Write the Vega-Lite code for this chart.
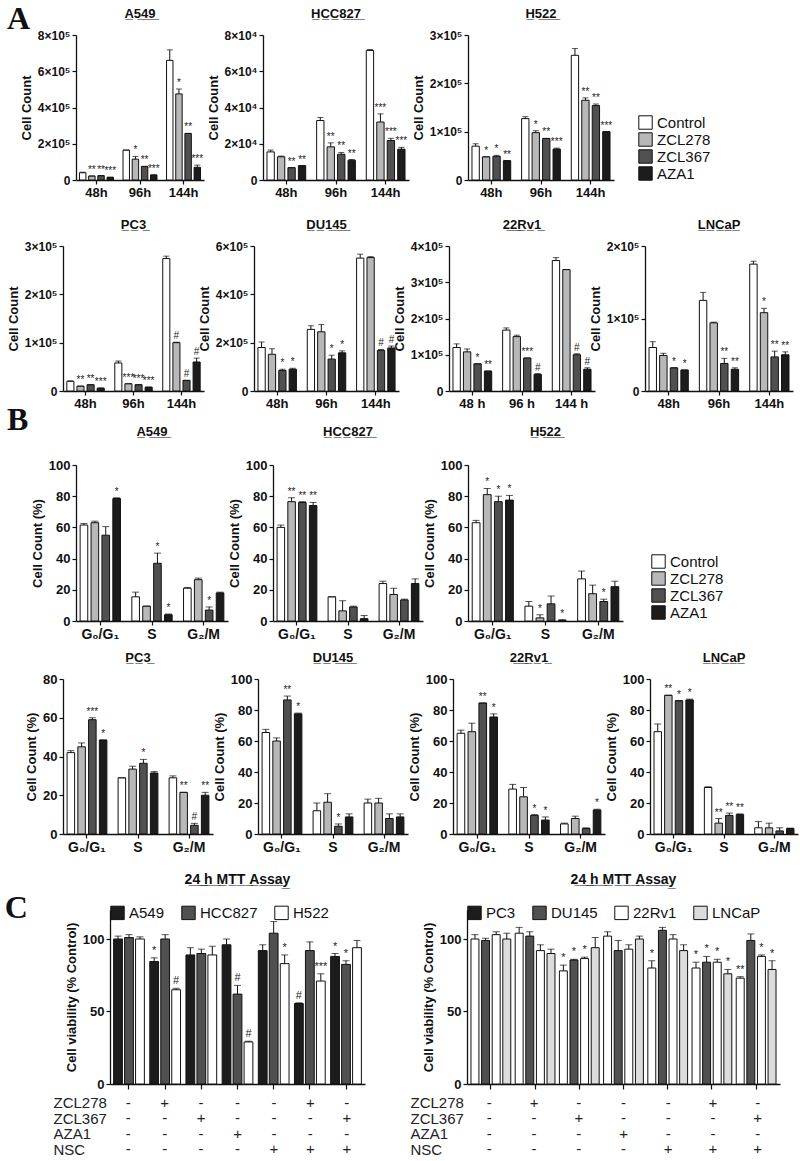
{
"$schema": "https://vega.github.io/schema/vega-lite/v6.json",
"padding": {"left": 4, "top": 3, "right": 2, "bottom": 2},
"background": "white",
"config": {
 "view": {"stroke": null},
 "font": "Liberation Sans",
 "axis": {"grid": false, "labelOverlap": false, "domainColor": "#111", "domainWidth": 1.3, "tickColor": "#111", "tickWidth": 1.2, "tickSize": 4, "labelColor": "#111", "labelFontWeight": "bold", "labelFontSize": 12, "labelFont": "Liberation Sans", "titleColor": "#111", "titleFontWeight": "bold", "titleFontSize": 13, "titleFont": "Liberation Sans", "titlePadding": 4},
 "title": {"font": "Liberation Sans", "fontSize": 13, "fontWeight": "bold", "color": "#111", "offset": 8},
 "legend": {"labelFont": "Liberation Sans", "labelFontSize": 15, "labelColor": "#111", "symbolType": "square", "symbolSize": 180, "symbolStrokeColor": "#111", "symbolStrokeWidth": 1, "rowPadding": -3}
},
"datasets": {
 "growth": [
  {"cell":"A549","time":"48h","trt":"Control","value":40000,"hi":43000,"sig":""},
  {"cell":"A549","time":"48h","trt":"ZCL278","value":22000,"hi":22000,"sig":"**"},
  {"cell":"A549","time":"48h","trt":"ZCL367","value":24000,"hi":24000,"sig":"**"},
  {"cell":"A549","time":"48h","trt":"AZA1","value":15000,"hi":15000,"sig":"***"},
  {"cell":"A549","time":"96h","trt":"Control","value":165000,"hi":165000,"sig":""},
  {"cell":"A549","time":"96h","trt":"ZCL278","value":115000,"hi":130000,"sig":"*"},
  {"cell":"A549","time":"96h","trt":"ZCL367","value":75000,"hi":75000,"sig":"**"},
  {"cell":"A549","time":"96h","trt":"AZA1","value":28000,"hi":28000,"sig":"***"},
  {"cell":"A549","time":"144h","trt":"Control","value":660000,"hi":718000,"sig":""},
  {"cell":"A549","time":"144h","trt":"ZCL278","value":475000,"hi":502000,"sig":"*"},
  {"cell":"A549","time":"144h","trt":"ZCL367","value":257000,"hi":257000,"sig":"**"},
  {"cell":"A549","time":"144h","trt":"AZA1","value":70000,"hi":82000,"sig":"***"},
  {"cell":"HCC827","time":"48h","trt":"Control","value":15500,"hi":16500,"sig":""},
  {"cell":"HCC827","time":"48h","trt":"ZCL278","value":12800,"hi":13200,"sig":""},
  {"cell":"HCC827","time":"48h","trt":"ZCL367","value":6800,"hi":6800,"sig":"**"},
  {"cell":"HCC827","time":"48h","trt":"AZA1","value":7900,"hi":7900,"sig":"**"},
  {"cell":"HCC827","time":"96h","trt":"Control","value":32800,"hi":34500,"sig":""},
  {"cell":"HCC827","time":"96h","trt":"ZCL278","value":18300,"hi":20500,"sig":"**"},
  {"cell":"HCC827","time":"96h","trt":"ZCL367","value":14200,"hi":15200,"sig":"**"},
  {"cell":"HCC827","time":"96h","trt":"AZA1","value":10900,"hi":11300,"sig":"**"},
  {"cell":"HCC827","time":"144h","trt":"Control","value":71500,"hi":72000,"sig":""},
  {"cell":"HCC827","time":"144h","trt":"ZCL278","value":32000,"hi":36500,"sig":"***"},
  {"cell":"HCC827","time":"144h","trt":"ZCL367","value":21800,"hi":23000,"sig":"***"},
  {"cell":"HCC827","time":"144h","trt":"AZA1","value":17000,"hi":18000,"sig":"***"},
  {"cell":"H522","time":"48h","trt":"Control","value":70000,"hi":75000,"sig":""},
  {"cell":"H522","time":"48h","trt":"ZCL278","value":48000,"hi":48000,"sig":"*"},
  {"cell":"H522","time":"48h","trt":"ZCL367","value":49000,"hi":51000,"sig":"*"},
  {"cell":"H522","time":"48h","trt":"AZA1","value":40000,"hi":40000,"sig":"**"},
  {"cell":"H522","time":"96h","trt":"Control","value":127000,"hi":131000,"sig":""},
  {"cell":"H522","time":"96h","trt":"ZCL278","value":98000,"hi":102000,"sig":"*"},
  {"cell":"H522","time":"96h","trt":"ZCL367","value":86000,"hi":86000,"sig":"**"},
  {"cell":"H522","time":"96h","trt":"AZA1","value":64000,"hi":66000,"sig":"***"},
  {"cell":"H522","time":"144h","trt":"Control","value":258000,"hi":272000,"sig":""},
  {"cell":"H522","time":"144h","trt":"ZCL278","value":165000,"hi":170000,"sig":"**"},
  {"cell":"H522","time":"144h","trt":"ZCL367","value":154000,"hi":157000,"sig":"**"},
  {"cell":"H522","time":"144h","trt":"AZA1","value":100000,"hi":100000,"sig":"***"},
  {"cell":"PC3","time":"48h","trt":"Control","value":20000,"hi":21000,"sig":""},
  {"cell":"PC3","time":"48h","trt":"ZCL278","value":10000,"hi":10000,"sig":"**"},
  {"cell":"PC3","time":"48h","trt":"ZCL367","value":13000,"hi":13000,"sig":"**"},
  {"cell":"PC3","time":"48h","trt":"AZA1","value":6000,"hi":6000,"sig":"***"},
  {"cell":"PC3","time":"96h","trt":"Control","value":58000,"hi":62000,"sig":""},
  {"cell":"PC3","time":"96h","trt":"ZCL278","value":15000,"hi":15000,"sig":"***"},
  {"cell":"PC3","time":"96h","trt":"ZCL367","value":13000,"hi":13000,"sig":"***"},
  {"cell":"PC3","time":"96h","trt":"AZA1","value":8000,"hi":8000,"sig":"***"},
  {"cell":"PC3","time":"144h","trt":"Control","value":274000,"hi":279000,"sig":""},
  {"cell":"PC3","time":"144h","trt":"ZCL278","value":100000,"hi":101000,"sig":"#"},
  {"cell":"PC3","time":"144h","trt":"ZCL367","value":22000,"hi":22000,"sig":"#"},
  {"cell":"PC3","time":"144h","trt":"AZA1","value":60000,"hi":68000,"sig":"#"},
  {"cell":"DU145","time":"48h","trt":"Control","value":180000,"hi":203000,"sig":""},
  {"cell":"DU145","time":"48h","trt":"ZCL278","value":152000,"hi":175000,"sig":""},
  {"cell":"DU145","time":"48h","trt":"ZCL367","value":85000,"hi":90000,"sig":"*"},
  {"cell":"DU145","time":"48h","trt":"AZA1","value":90000,"hi":94000,"sig":"*"},
  {"cell":"DU145","time":"96h","trt":"Control","value":255000,"hi":270000,"sig":""},
  {"cell":"DU145","time":"96h","trt":"ZCL278","value":245000,"hi":275000,"sig":""},
  {"cell":"DU145","time":"96h","trt":"ZCL367","value":132000,"hi":148000,"sig":"*"},
  {"cell":"DU145","time":"96h","trt":"AZA1","value":158000,"hi":166000,"sig":"*"},
  {"cell":"DU145","time":"144h","trt":"Control","value":550000,"hi":566000,"sig":""},
  {"cell":"DU145","time":"144h","trt":"ZCL278","value":552000,"hi":556000,"sig":""},
  {"cell":"DU145","time":"144h","trt":"ZCL367","value":168000,"hi":172000,"sig":"#"},
  {"cell":"DU145","time":"144h","trt":"AZA1","value":178000,"hi":186000,"sig":"#"},
  {"cell":"22Rv1","time":"48 h","trt":"Control","value":120000,"hi":130000,"sig":""},
  {"cell":"22Rv1","time":"48 h","trt":"ZCL278","value":108000,"hi":116000,"sig":""},
  {"cell":"22Rv1","time":"48 h","trt":"ZCL367","value":75000,"hi":75000,"sig":"*"},
  {"cell":"22Rv1","time":"48 h","trt":"AZA1","value":55000,"hi":55000,"sig":"**"},
  {"cell":"22Rv1","time":"96 h","trt":"Control","value":168000,"hi":174000,"sig":""},
  {"cell":"22Rv1","time":"96 h","trt":"ZCL278","value":150000,"hi":154000,"sig":""},
  {"cell":"22Rv1","time":"96 h","trt":"ZCL367","value":91000,"hi":91000,"sig":"***"},
  {"cell":"22Rv1","time":"96 h","trt":"AZA1","value":46000,"hi":48000,"sig":"#"},
  {"cell":"22Rv1","time":"144 h","trt":"Control","value":360000,"hi":368000,"sig":""},
  {"cell":"22Rv1","time":"144 h","trt":"ZCL278","value":335000,"hi":335000,"sig":""},
  {"cell":"22Rv1","time":"144 h","trt":"ZCL367","value":100000,"hi":103000,"sig":"#"},
  {"cell":"22Rv1","time":"144 h","trt":"AZA1","value":60000,"hi":64000,"sig":"#"},
  {"cell":"LNCaP","time":"48h","trt":"Control","value":60000,"hi":68000,"sig":""},
  {"cell":"LNCaP","time":"48h","trt":"ZCL278","value":49000,"hi":52000,"sig":""},
  {"cell":"LNCaP","time":"48h","trt":"ZCL367","value":32000,"hi":32000,"sig":"*"},
  {"cell":"LNCaP","time":"48h","trt":"AZA1","value":29000,"hi":29000,"sig":"*"},
  {"cell":"LNCaP","time":"96h","trt":"Control","value":125000,"hi":136000,"sig":""},
  {"cell":"LNCaP","time":"96h","trt":"ZCL278","value":94000,"hi":95000,"sig":""},
  {"cell":"LNCaP","time":"96h","trt":"ZCL367","value":38000,"hi":45000,"sig":"**"},
  {"cell":"LNCaP","time":"96h","trt":"AZA1","value":30000,"hi":32000,"sig":"**"},
  {"cell":"LNCaP","time":"144h","trt":"Control","value":175000,"hi":179000,"sig":""},
  {"cell":"LNCaP","time":"144h","trt":"ZCL278","value":108000,"hi":114000,"sig":"*"},
  {"cell":"LNCaP","time":"144h","trt":"ZCL367","value":47000,"hi":55000,"sig":"**"},
  {"cell":"LNCaP","time":"144h","trt":"AZA1","value":50000,"hi":54000,"sig":"**"}
 ],
 "cycle": [
  {"cell":"A549","phase":"G₀/G₁","trt":"Control","value":61.5,"hi":62.5,"sig":""},
  {"cell":"A549","phase":"G₀/G₁","trt":"ZCL278","value":63,"hi":64,"sig":""},
  {"cell":"A549","phase":"G₀/G₁","trt":"ZCL367","value":55,"hi":60.5,"sig":""},
  {"cell":"A549","phase":"G₀/G₁","trt":"AZA1","value":78.5,"hi":79,"sig":"*"},
  {"cell":"A549","phase":"S","trt":"Control","value":15.5,"hi":18.5,"sig":""},
  {"cell":"A549","phase":"S","trt":"ZCL278","value":9.5,"hi":9.5,"sig":""},
  {"cell":"A549","phase":"S","trt":"ZCL367","value":37,"hi":43.5,"sig":"*"},
  {"cell":"A549","phase":"S","trt":"AZA1","value":4,"hi":4.5,"sig":"*"},
  {"cell":"A549","phase":"G₂/M","trt":"Control","value":21,"hi":21.5,"sig":""},
  {"cell":"A549","phase":"G₂/M","trt":"ZCL278","value":26.5,"hi":27.5,"sig":""},
  {"cell":"A549","phase":"G₂/M","trt":"ZCL367","value":7,"hi":9,"sig":"*"},
  {"cell":"A549","phase":"G₂/M","trt":"AZA1","value":18,"hi":18.5,"sig":""},
  {"cell":"HCC827","phase":"G₀/G₁","trt":"Control","value":60,"hi":61.5,"sig":""},
  {"cell":"HCC827","phase":"G₀/G₁","trt":"ZCL278","value":76.5,"hi":79,"sig":"**"},
  {"cell":"HCC827","phase":"G₀/G₁","trt":"ZCL367","value":76,"hi":76.5,"sig":"**"},
  {"cell":"HCC827","phase":"G₀/G₁","trt":"AZA1","value":74,"hi":76,"sig":"**"},
  {"cell":"HCC827","phase":"S","trt":"Control","value":15.5,"hi":15.5,"sig":""},
  {"cell":"HCC827","phase":"S","trt":"ZCL278","value":6.5,"hi":13,"sig":""},
  {"cell":"HCC827","phase":"S","trt":"ZCL367","value":9,"hi":9.5,"sig":""},
  {"cell":"HCC827","phase":"S","trt":"AZA1","value":1.5,"hi":3.5,"sig":""},
  {"cell":"HCC827","phase":"G₂/M","trt":"Control","value":24,"hi":25.5,"sig":""},
  {"cell":"HCC827","phase":"G₂/M","trt":"ZCL278","value":17,"hi":21,"sig":""},
  {"cell":"HCC827","phase":"G₂/M","trt":"ZCL367","value":13.5,"hi":14,"sig":""},
  {"cell":"HCC827","phase":"G₂/M","trt":"AZA1","value":24,"hi":27,"sig":""},
  {"cell":"H522","phase":"G₀/G₁","trt":"Control","value":63,"hi":64.5,"sig":""},
  {"cell":"H522","phase":"G₀/G₁","trt":"ZCL278","value":81,"hi":85,"sig":"*"},
  {"cell":"H522","phase":"G₀/G₁","trt":"ZCL367","value":76.5,"hi":80,"sig":"*"},
  {"cell":"H522","phase":"G₀/G₁","trt":"AZA1","value":77.5,"hi":80.5,"sig":"*"},
  {"cell":"H522","phase":"S","trt":"Control","value":9.5,"hi":12.5,"sig":""},
  {"cell":"H522","phase":"S","trt":"ZCL278","value":2,"hi":4,"sig":"*"},
  {"cell":"H522","phase":"S","trt":"ZCL367","value":11,"hi":16,"sig":""},
  {"cell":"H522","phase":"S","trt":"AZA1","value":0.5,"hi":0.8,"sig":"*"},
  {"cell":"H522","phase":"G₂/M","trt":"Control","value":27,"hi":32,"sig":""},
  {"cell":"H522","phase":"G₂/M","trt":"ZCL278","value":17.5,"hi":23,"sig":""},
  {"cell":"H522","phase":"G₂/M","trt":"ZCL367","value":12.5,"hi":14,"sig":"*"},
  {"cell":"H522","phase":"G₂/M","trt":"AZA1","value":22,"hi":25.5,"sig":""},
  {"cell":"PC3","phase":"G₀/G₁","trt":"Control","value":42,"hi":43,"sig":""},
  {"cell":"PC3","phase":"G₀/G₁","trt":"ZCL278","value":45,"hi":47,"sig":""},
  {"cell":"PC3","phase":"G₀/G₁","trt":"ZCL367","value":59,"hi":60,"sig":"***"},
  {"cell":"PC3","phase":"G₀/G₁","trt":"AZA1","value":48.5,"hi":48.5,"sig":"*"},
  {"cell":"PC3","phase":"S","trt":"Control","value":29,"hi":29,"sig":""},
  {"cell":"PC3","phase":"S","trt":"ZCL278","value":33.5,"hi":35,"sig":""},
  {"cell":"PC3","phase":"S","trt":"ZCL367","value":36.5,"hi":38.5,"sig":"*"},
  {"cell":"PC3","phase":"S","trt":"AZA1","value":31.5,"hi":32.3,"sig":""},
  {"cell":"PC3","phase":"G₂/M","trt":"Control","value":29,"hi":30,"sig":""},
  {"cell":"PC3","phase":"G₂/M","trt":"ZCL278","value":21.5,"hi":21.5,"sig":"**"},
  {"cell":"PC3","phase":"G₂/M","trt":"ZCL367","value":4.5,"hi":5.5,"sig":"#"},
  {"cell":"PC3","phase":"G₂/M","trt":"AZA1","value":20,"hi":21.5,"sig":"**"},
  {"cell":"DU145","phase":"G₀/G₁","trt":"Control","value":65.5,"hi":67.5,"sig":""},
  {"cell":"DU145","phase":"G₀/G₁","trt":"ZCL278","value":60,"hi":62,"sig":""},
  {"cell":"DU145","phase":"G₀/G₁","trt":"ZCL367","value":86.5,"hi":89,"sig":"**"},
  {"cell":"DU145","phase":"G₀/G₁","trt":"AZA1","value":77.5,"hi":78,"sig":"*"},
  {"cell":"DU145","phase":"S","trt":"Control","value":15,"hi":20,"sig":""},
  {"cell":"DU145","phase":"S","trt":"ZCL278","value":20.5,"hi":26,"sig":""},
  {"cell":"DU145","phase":"S","trt":"ZCL367","value":5,"hi":6.5,"sig":"*"},
  {"cell":"DU145","phase":"S","trt":"AZA1","value":11,"hi":13,"sig":""},
  {"cell":"DU145","phase":"G₂/M","trt":"Control","value":20,"hi":22.5,"sig":""},
  {"cell":"DU145","phase":"G₂/M","trt":"ZCL278","value":20,"hi":23,"sig":""},
  {"cell":"DU145","phase":"G₂/M","trt":"ZCL367","value":10,"hi":13,"sig":""},
  {"cell":"DU145","phase":"G₂/M","trt":"AZA1","value":11,"hi":13,"sig":""},
  {"cell":"22Rv1","phase":"G₀/G₁","trt":"Control","value":65,"hi":67,"sig":""},
  {"cell":"22Rv1","phase":"G₀/G₁","trt":"ZCL278","value":66,"hi":71.5,"sig":""},
  {"cell":"22Rv1","phase":"G₀/G₁","trt":"ZCL367","value":84.5,"hi":84.5,"sig":"**"},
  {"cell":"22Rv1","phase":"G₀/G₁","trt":"AZA1","value":75.5,"hi":77.5,"sig":"*"},
  {"cell":"22Rv1","phase":"S","trt":"Control","value":29,"hi":32,"sig":""},
  {"cell":"22Rv1","phase":"S","trt":"ZCL278","value":24,"hi":30,"sig":""},
  {"cell":"22Rv1","phase":"S","trt":"ZCL367","value":12,"hi":12.5,"sig":"*"},
  {"cell":"22Rv1","phase":"S","trt":"AZA1","value":9,"hi":11,"sig":"*"},
  {"cell":"22Rv1","phase":"G₂/M","trt":"Control","value":6.5,"hi":7,"sig":""},
  {"cell":"22Rv1","phase":"G₂/M","trt":"ZCL278","value":10,"hi":11.5,"sig":""},
  {"cell":"22Rv1","phase":"G₂/M","trt":"ZCL367","value":3.5,"hi":4,"sig":""},
  {"cell":"22Rv1","phase":"G₂/M","trt":"AZA1","value":15.5,"hi":16,"sig":"*"},
  {"cell":"LNCaP","phase":"G₀/G₁","trt":"Control","value":66,"hi":71,"sig":""},
  {"cell":"LNCaP","phase":"G₀/G₁","trt":"ZCL278","value":89.5,"hi":89.5,"sig":"**"},
  {"cell":"LNCaP","phase":"G₀/G₁","trt":"ZCL367","value":86,"hi":86,"sig":"*"},
  {"cell":"LNCaP","phase":"G₀/G₁","trt":"AZA1","value":86.5,"hi":87,"sig":"*"},
  {"cell":"LNCaP","phase":"S","trt":"Control","value":30,"hi":30.5,"sig":""},
  {"cell":"LNCaP","phase":"S","trt":"ZCL278","value":7,"hi":10,"sig":"**"},
  {"cell":"LNCaP","phase":"S","trt":"ZCL367","value":12,"hi":13.5,"sig":"**"},
  {"cell":"LNCaP","phase":"S","trt":"AZA1","value":12.5,"hi":13,"sig":"**"},
  {"cell":"LNCaP","phase":"G₂/M","trt":"Control","value":4,"hi":8,"sig":""},
  {"cell":"LNCaP","phase":"G₂/M","trt":"ZCL278","value":4,"hi":7,"sig":""},
  {"cell":"LNCaP","phase":"G₂/M","trt":"ZCL367","value":2,"hi":4,"sig":""},
  {"cell":"LNCaP","phase":"G₂/M","trt":"AZA1","value":3.5,"hi":3.8,"sig":""}
 ],
 "mtt": [
  {"side":"L","group":"1","series":"A549","value":100,"hi":102,"sig":""},
  {"side":"L","group":"1","series":"HCC827","value":101,"hi":103,"sig":""},
  {"side":"L","group":"1","series":"H522","value":100,"hi":101.5,"sig":""},
  {"side":"L","group":"2","series":"A549","value":84.5,"hi":87,"sig":"*"},
  {"side":"L","group":"2","series":"HCC827","value":100,"hi":103,"sig":""},
  {"side":"L","group":"2","series":"H522","value":65,"hi":66,"sig":"#"},
  {"side":"L","group":"3","series":"A549","value":89,"hi":94,"sig":""},
  {"side":"L","group":"3","series":"HCC827","value":90,"hi":93,"sig":""},
  {"side":"L","group":"3","series":"H522","value":89,"hi":95,"sig":""},
  {"side":"L","group":"4","series":"A549","value":96,"hi":100,"sig":""},
  {"side":"L","group":"4","series":"HCC827","value":62,"hi":68,"sig":"#"},
  {"side":"L","group":"4","series":"H522","value":29,"hi":29.5,"sig":"#"},
  {"side":"L","group":"5","series":"A549","value":92,"hi":96,"sig":""},
  {"side":"L","group":"5","series":"HCC827","value":104,"hi":112,"sig":""},
  {"side":"L","group":"5","series":"H522","value":83,"hi":89,"sig":"*"},
  {"side":"L","group":"6","series":"A549","value":55.5,"hi":56,"sig":"#"},
  {"side":"L","group":"6","series":"HCC827","value":92,"hi":98,"sig":""},
  {"side":"L","group":"6","series":"H522","value":71,"hi":76,"sig":"***"},
  {"side":"L","group":"7","series":"A549","value":88,"hi":90,"sig":"*"},
  {"side":"L","group":"7","series":"HCC827","value":82.5,"hi":85,"sig":"*"},
  {"side":"L","group":"7","series":"H522","value":94,"hi":99,"sig":""},
  {"side":"R","group":"1","series":"PC3","value":100,"hi":103,"sig":""},
  {"side":"R","group":"1","series":"DU145","value":99,"hi":100.5,"sig":""},
  {"side":"R","group":"1","series":"22Rv1","value":103,"hi":105,"sig":""},
  {"side":"R","group":"1","series":"LNCaP","value":100,"hi":104,"sig":""},
  {"side":"R","group":"2","series":"PC3","value":104,"hi":108,"sig":""},
  {"side":"R","group":"2","series":"DU145","value":102,"hi":105,"sig":""},
  {"side":"R","group":"2","series":"22Rv1","value":92,"hi":96,"sig":""},
  {"side":"R","group":"2","series":"LNCaP","value":90,"hi":93,"sig":""},
  {"side":"R","group":"3","series":"PC3","value":78,"hi":82,"sig":"*"},
  {"side":"R","group":"3","series":"DU145","value":85.5,"hi":86,"sig":"*"},
  {"side":"R","group":"3","series":"22Rv1","value":86.5,"hi":87.5,"sig":"*"},
  {"side":"R","group":"3","series":"LNCaP","value":94,"hi":101,"sig":""},
  {"side":"R","group":"4","series":"PC3","value":102,"hi":105,"sig":""},
  {"side":"R","group":"4","series":"DU145","value":92,"hi":99,"sig":""},
  {"side":"R","group":"4","series":"22Rv1","value":93,"hi":96,"sig":""},
  {"side":"R","group":"4","series":"LNCaP","value":100,"hi":102,"sig":""},
  {"side":"R","group":"5","series":"PC3","value":80,"hi":85,"sig":"*"},
  {"side":"R","group":"5","series":"DU145","value":106,"hi":108,"sig":""},
  {"side":"R","group":"5","series":"22Rv1","value":100,"hi":103,"sig":""},
  {"side":"R","group":"5","series":"LNCaP","value":92,"hi":96,"sig":""},
  {"side":"R","group":"6","series":"PC3","value":80,"hi":84,"sig":"*"},
  {"side":"R","group":"6","series":"DU145","value":84,"hi":88,"sig":"*"},
  {"side":"R","group":"6","series":"22Rv1","value":84,"hi":86,"sig":"*"},
  {"side":"R","group":"6","series":"LNCaP","value":76,"hi":79,"sig":"*"},
  {"side":"R","group":"7","series":"PC3","value":73,"hi":74,"sig":"**"},
  {"side":"R","group":"7","series":"DU145","value":99,"hi":103.5,"sig":""},
  {"side":"R","group":"7","series":"22Rv1","value":88,"hi":89,"sig":"*"},
  {"side":"R","group":"7","series":"LNCaP","value":79,"hi":85,"sig":"*"}
 ],
 "tbl": [
  {"group":"1","trt":"ZCL278","s":"-"},{"group":"1","trt":"ZCL367","s":"-"},{"group":"1","trt":"AZA1","s":"-"},{"group":"1","trt":"NSC","s":"-"},
  {"group":"2","trt":"ZCL278","s":"+"},{"group":"2","trt":"ZCL367","s":"-"},{"group":"2","trt":"AZA1","s":"-"},{"group":"2","trt":"NSC","s":"-"},
  {"group":"3","trt":"ZCL278","s":"-"},{"group":"3","trt":"ZCL367","s":"+"},{"group":"3","trt":"AZA1","s":"-"},{"group":"3","trt":"NSC","s":"-"},
  {"group":"4","trt":"ZCL278","s":"-"},{"group":"4","trt":"ZCL367","s":"-"},{"group":"4","trt":"AZA1","s":"+"},{"group":"4","trt":"NSC","s":"-"},
  {"group":"5","trt":"ZCL278","s":"-"},{"group":"5","trt":"ZCL367","s":"-"},{"group":"5","trt":"AZA1","s":"-"},{"group":"5","trt":"NSC","s":"+"},
  {"group":"6","trt":"ZCL278","s":"+"},{"group":"6","trt":"ZCL367","s":"-"},{"group":"6","trt":"AZA1","s":"-"},{"group":"6","trt":"NSC","s":"+"},
  {"group":"7","trt":"ZCL278","s":"-"},{"group":"7","trt":"ZCL367","s":"+"},{"group":"7","trt":"AZA1","s":"-"},{"group":"7","trt":"NSC","s":"+"}
 ]
},
"resolve": {"scale": {"fill": "independent", "xOffset": "independent"}, "legend": {"fill": "independent"}},
"columns": 1, "spacing": -15,
"concat": [
 {"hconcat": [
   {"width": 10, "height": 199, "data": {"values": [{"k": 0}]}, "mark": {"type": "point", "opacity": 0}, "encoding": {}},
   {"width": 128, "height": 145, "title": {"text": "A\u03325\u03324\u03329\u0332"},
    "data": {"name": "growth"}, "transform": [{"filter": "datum.cell === 'A549'"}],
    "encoding": {"x": {"field": "time", "type": "nominal", "sort": ["48h","96h","144h"], "scale": {"paddingInner": 0.22, "paddingOuter": 0.08}, "axis": {"title": null, "labelAngle": 0, "labelFontSize": 13}},
                 "xOffset": {"field": "trt", "type": "nominal", "sort": ["Control","ZCL278","ZCL367","AZA1"], "scale": {"paddingInner": 0.3}}},
    "layer": [
     {"mark": {"type": "bar", "stroke": "#111", "strokeWidth": 1}, "encoding": {"y": {"field": "value", "type": "quantitative", "scale": {"domain": [0, 800000], "nice": false}, "axis": {"title": "Cell Count", "labelOverlap": false, "tickCount": 10, "values": [0,200000,400000,600000,800000], "labelExpr": "datum.value == 0 ? '0' : (datum.value/100000) + '×10⁵'"}}, "fill": {"field": "trt", "type": "nominal", "scale": {"domain": ["Control","ZCL278","ZCL367","AZA1"], "range": ["#ffffff","#b8b8b8","#505050","#1c1c1c"]}, "legend": null}}},
     {"mark": {"type": "rule", "color": "#111"}, "encoding": {"y": {"field": "value", "type": "quantitative"}, "y2": {"field": "hi"}}},
     {"mark": {"type": "tick", "color": "#111", "thickness": 1, "size": 6}, "encoding": {"y": {"field": "hi", "type": "quantitative"}}},
     {"mark": {"type": "text", "dy": -6, "fontSize": 10, "color": "#222"}, "encoding": {"y": {"field": "hi", "type": "quantitative"}, "text": {"field": "sig"}}}
    ]},
   {"width": 146, "height": 145, "title": {"text": "H\u0332C\u0332C\u03328\u03322\u03327\u0332"},
    "data": {"name": "growth"}, "transform": [{"filter": "datum.cell === 'HCC827'"}],
    "encoding": {"x": {"field": "time", "type": "nominal", "sort": ["48h","96h","144h"], "scale": {"paddingInner": 0.22, "paddingOuter": 0.08}, "axis": {"title": null, "labelAngle": 0, "labelFontSize": 13}},
                 "xOffset": {"field": "trt", "type": "nominal", "sort": ["Control","ZCL278","ZCL367","AZA1"], "scale": {"paddingInner": 0.3}}},
    "layer": [
     {"mark": {"type": "bar", "stroke": "#111", "strokeWidth": 1}, "encoding": {"y": {"field": "value", "type": "quantitative", "scale": {"domain": [0, 80000], "nice": false}, "axis": {"title": "Cell Count", "labelOverlap": false, "tickCount": 10, "values": [0,20000,40000,60000,80000], "labelExpr": "datum.value == 0 ? '0' : (datum.value/10000) + '×10⁴'"}}, "fill": {"field": "trt", "type": "nominal", "scale": {"domain": ["Control","ZCL278","ZCL367","AZA1"], "range": ["#ffffff","#b8b8b8","#505050","#1c1c1c"]}, "legend": null}}},
     {"mark": {"type": "rule", "color": "#111"}, "encoding": {"y": {"field": "value", "type": "quantitative"}, "y2": {"field": "hi"}}},
     {"mark": {"type": "tick", "color": "#111", "thickness": 1, "size": 6}, "encoding": {"y": {"field": "hi", "type": "quantitative"}}},
     {"mark": {"type": "text", "dy": -6, "fontSize": 10, "color": "#222"}, "encoding": {"y": {"field": "hi", "type": "quantitative"}, "text": {"field": "sig"}}}
    ]},
   {"width": 146, "height": 145, "title": {"text": "H\u03325\u03322\u03322\u0332"},
    "data": {"name": "growth"}, "transform": [{"filter": "datum.cell === 'H522'"}],
    "encoding": {"x": {"field": "time", "type": "nominal", "sort": ["48h","96h","144h"], "scale": {"paddingInner": 0.22, "paddingOuter": 0.08}, "axis": {"title": null, "labelAngle": 0, "labelFontSize": 13}},
                 "xOffset": {"field": "trt", "type": "nominal", "sort": ["Control","ZCL278","ZCL367","AZA1"], "scale": {"paddingInner": 0.3}}},
    "layer": [
     {"mark": {"type": "bar", "stroke": "#111", "strokeWidth": 1}, "encoding": {"y": {"field": "value", "type": "quantitative", "scale": {"domain": [0, 300000], "nice": false}, "axis": {"title": "Cell Count", "labelOverlap": false, "tickCount": 10, "values": [0,100000,200000,300000], "labelExpr": "datum.value == 0 ? '0' : (datum.value/100000) + '×10⁵'"}}, "fill": {"field": "trt", "type": "nominal", "scale": {"domain": ["Control","ZCL278","ZCL367","AZA1"], "range": ["#ffffff","#b8b8b8","#505050","#1c1c1c"]}, "legend": {"title": null, "orient": "none", "legendX": 170, "legendY": 80}}}},
     {"mark": {"type": "rule", "color": "#111"}, "encoding": {"y": {"field": "value", "type": "quantitative"}, "y2": {"field": "hi"}}},
     {"mark": {"type": "tick", "color": "#111", "thickness": 1, "size": 6}, "encoding": {"y": {"field": "hi", "type": "quantitative"}}},
     {"mark": {"type": "text", "dy": -6, "fontSize": 10, "color": "#222"}, "encoding": {"y": {"field": "hi", "type": "quantitative"}, "text": {"field": "sig"}}}
    ]}
  ],
  "bounds": "flush", "spacing": 59,
  "title": {"text": "A", "anchor": "start", "frame": "bounds", "fontSize": 32, "font": "Liberation Serif", "fontWeight": "bold", "offset": -28},
  "resolve": {"scale": {"fill": "independent", "xOffset": "independent"}, "legend": {"fill": "independent"}}},
 {"hconcat": [
   {"width": 6, "height": 173, "data": {"values": [{"k": 0}]}, "mark": {"type": "point", "opacity": 0}, "encoding": {}},
   {"width": 141, "height": 145, "title": {"text": "P\u0332C\u03323\u0332"},
    "data": {"name": "growth"}, "transform": [{"filter": "datum.cell === 'PC3'"}],
    "encoding": {"x": {"field": "time", "type": "nominal", "sort": ["48h","96h","144h"], "scale": {"paddingInner": 0.22, "paddingOuter": 0.08}, "axis": {"title": null, "labelAngle": 0, "labelFontSize": 13}},
                 "xOffset": {"field": "trt", "type": "nominal", "sort": ["Control","ZCL278","ZCL367","AZA1"], "scale": {"paddingInner": 0.3}}},
    "layer": [
     {"mark": {"type": "bar", "stroke": "#111", "strokeWidth": 1}, "encoding": {"y": {"field": "value", "type": "quantitative", "scale": {"domain": [0, 300000], "nice": false}, "axis": {"title": "Cell Count", "labelOverlap": false, "tickCount": 10, "values": [0,100000,200000,300000], "labelExpr": "datum.value == 0 ? '0' : (datum.value/100000) + '×10⁵'"}}, "fill": {"field": "trt", "type": "nominal", "scale": {"domain": ["Control","ZCL278","ZCL367","AZA1"], "range": ["#ffffff","#b8b8b8","#505050","#1c1c1c"]}, "legend": null}}},
     {"mark": {"type": "rule", "color": "#111"}, "encoding": {"y": {"field": "value", "type": "quantitative"}, "y2": {"field": "hi"}}},
     {"mark": {"type": "tick", "color": "#111", "thickness": 1, "size": 6}, "encoding": {"y": {"field": "hi", "type": "quantitative"}}},
     {"mark": {"type": "text", "dy": -6, "fontSize": 10, "color": "#222"}, "encoding": {"y": {"field": "hi", "type": "quantitative"}, "text": {"field": "sig"}}}
    ]},
   {"width": 145, "height": 145, "title": {"text": "D\u0332U\u03321\u03324\u03325\u0332"},
    "data": {"name": "growth"}, "transform": [{"filter": "datum.cell === 'DU145'"}],
    "encoding": {"x": {"field": "time", "type": "nominal", "sort": ["48h","96h","144h"], "scale": {"paddingInner": 0.22, "paddingOuter": 0.08}, "axis": {"title": null, "labelAngle": 0, "labelFontSize": 13}},
                 "xOffset": {"field": "trt", "type": "nominal", "sort": ["Control","ZCL278","ZCL367","AZA1"], "scale": {"paddingInner": 0.3}}},
    "layer": [
     {"mark": {"type": "bar", "stroke": "#111", "strokeWidth": 1}, "encoding": {"y": {"field": "value", "type": "quantitative", "scale": {"domain": [0, 600000], "nice": false}, "axis": {"title": "Cell Count", "labelOverlap": false, "tickCount": 10, "values": [0,200000,400000,600000], "labelExpr": "datum.value == 0 ? '0' : (datum.value/100000) + '×10⁵'"}}, "fill": {"field": "trt", "type": "nominal", "scale": {"domain": ["Control","ZCL278","ZCL367","AZA1"], "range": ["#ffffff","#b8b8b8","#505050","#1c1c1c"]}, "legend": null}}},
     {"mark": {"type": "rule", "color": "#111"}, "encoding": {"y": {"field": "value", "type": "quantitative"}, "y2": {"field": "hi"}}},
     {"mark": {"type": "tick", "color": "#111", "thickness": 1, "size": 6}, "encoding": {"y": {"field": "hi", "type": "quantitative"}}},
     {"mark": {"type": "text", "dy": -6, "fontSize": 10, "color": "#222"}, "encoding": {"y": {"field": "hi", "type": "quantitative"}, "text": {"field": "sig"}}}
    ]},
   {"width": 146, "height": 145, "title": {"text": "2\u03322\u0332R\u0332v\u03321\u0332"},
    "data": {"name": "growth"}, "transform": [{"filter": "datum.cell === '22Rv1'"}],
    "encoding": {"x": {"field": "time", "type": "nominal", "sort": ["48 h","96 h","144 h"], "scale": {"paddingInner": 0.22, "paddingOuter": 0.08}, "axis": {"title": null, "labelAngle": 0, "labelFontSize": 13}},
                 "xOffset": {"field": "trt", "type": "nominal", "sort": ["Control","ZCL278","ZCL367","AZA1"], "scale": {"paddingInner": 0.3}}},
    "layer": [
     {"mark": {"type": "bar", "stroke": "#111", "strokeWidth": 1}, "encoding": {"y": {"field": "value", "type": "quantitative", "scale": {"domain": [0, 400000], "nice": false}, "axis": {"title": "Cell Count", "labelOverlap": false, "tickCount": 10, "values": [0,100000,200000,300000,400000], "labelExpr": "datum.value == 0 ? '0' : (datum.value/100000) + '×10⁵'"}}, "fill": {"field": "trt", "type": "nominal", "scale": {"domain": ["Control","ZCL278","ZCL367","AZA1"], "range": ["#ffffff","#b8b8b8","#505050","#1c1c1c"]}, "legend": null}}},
     {"mark": {"type": "rule", "color": "#111"}, "encoding": {"y": {"field": "value", "type": "quantitative"}, "y2": {"field": "hi"}}},
     {"mark": {"type": "tick", "color": "#111", "thickness": 1, "size": 6}, "encoding": {"y": {"field": "hi", "type": "quantitative"}}},
     {"mark": {"type": "text", "dy": -6, "fontSize": 10, "color": "#222"}, "encoding": {"y": {"field": "hi", "type": "quantitative"}, "text": {"field": "sig"}}}
    ]},
   {"width": 148, "height": 145, "title": {"text": "L\u0332N\u0332C\u0332a\u0332P\u0332"},
    "data": {"name": "growth"}, "transform": [{"filter": "datum.cell === 'LNCaP'"}],
    "encoding": {"x": {"field": "time", "type": "nominal", "sort": ["48h","96h","144h"], "scale": {"paddingInner": 0.22, "paddingOuter": 0.08}, "axis": {"title": null, "labelAngle": 0, "labelFontSize": 13}},
                 "xOffset": {"field": "trt", "type": "nominal", "sort": ["Control","ZCL278","ZCL367","AZA1"], "scale": {"paddingInner": 0.3}}},
    "layer": [
     {"mark": {"type": "bar", "stroke": "#111", "strokeWidth": 1}, "encoding": {"y": {"field": "value", "type": "quantitative", "scale": {"domain": [0, 200000], "nice": false}, "axis": {"title": "Cell Count", "labelOverlap": false, "tickCount": 10, "values": [0,100000,200000], "labelExpr": "datum.value == 0 ? '0' : (datum.value/100000) + '×10⁵'"}}, "fill": {"field": "trt", "type": "nominal", "scale": {"domain": ["Control","ZCL278","ZCL367","AZA1"], "range": ["#ffffff","#b8b8b8","#505050","#1c1c1c"]}, "legend": null}}},
     {"mark": {"type": "rule", "color": "#111"}, "encoding": {"y": {"field": "value", "type": "quantitative"}, "y2": {"field": "hi"}}},
     {"mark": {"type": "tick", "color": "#111", "thickness": 1, "size": 6}, "encoding": {"y": {"field": "hi", "type": "quantitative"}}},
     {"mark": {"type": "text", "dy": -6, "fontSize": 10, "color": "#222"}, "encoding": {"y": {"field": "hi", "type": "quantitative"}, "text": {"field": "sig"}}}
    ]}
  ],
  "bounds": "flush", "spacing": 50,
  "resolve": {"scale": {"fill": "independent", "xOffset": "independent"}, "legend": {"fill": "independent"}}},
 {"hconcat": [
   {"width": 24, "height": 202, "data": {"values": [{"k": 0}]}, "mark": {"type": "point", "opacity": 0}, "encoding": {}},
   {"width": 152, "height": 156, "title": {"text": "A\u03325\u03324\u03329\u0332", "offset": 20},
    "data": {"name": "cycle"}, "transform": [{"filter": "datum.cell === 'A549'"}],
    "encoding": {"x": {"field": "phase", "type": "nominal", "sort": ["G₀/G₁","S","G₂/M"], "scale": {"paddingInner": 0.22, "paddingOuter": 0.08}, "axis": {"title": null, "labelAngle": 0, "labelFontSize": 14}},
                 "xOffset": {"field": "trt", "type": "nominal", "sort": ["Control","ZCL278","ZCL367","AZA1"], "scale": {"paddingInner": 0.3}}},
    "layer": [
     {"mark": {"type": "bar", "stroke": "#111", "strokeWidth": 1}, "encoding": {"y": {"field": "value", "type": "quantitative", "scale": {"domain": [0, 100], "nice": false}, "axis": {"title": "Cell Count (%)", "labelOverlap": false, "tickCount": 10, "values": [0,20,40,60,80,100], "labelFontSize": 13}}, "fill": {"field": "trt", "type": "nominal", "scale": {"domain": ["Control","ZCL278","ZCL367","AZA1"], "range": ["#ffffff","#b8b8b8","#505050","#1c1c1c"]}, "legend": null}}},
     {"mark": {"type": "rule", "color": "#111"}, "encoding": {"y": {"field": "value", "type": "quantitative"}, "y2": {"field": "hi"}}},
     {"mark": {"type": "tick", "color": "#111", "thickness": 1, "size": 7}, "encoding": {"y": {"field": "hi", "type": "quantitative"}}},
     {"mark": {"type": "text", "dy": -6, "fontSize": 10, "color": "#222"}, "encoding": {"y": {"field": "hi", "type": "quantitative"}, "text": {"field": "sig"}}}
    ]},
   {"width": 150, "height": 156, "title": {"text": "H\u0332C\u0332C\u03328\u03322\u03327\u0332", "offset": 20},
    "data": {"name": "cycle"}, "transform": [{"filter": "datum.cell === 'HCC827'"}],
    "encoding": {"x": {"field": "phase", "type": "nominal", "sort": ["G₀/G₁","S","G₂/M"], "scale": {"paddingInner": 0.22, "paddingOuter": 0.08}, "axis": {"title": null, "labelAngle": 0, "labelFontSize": 14}},
                 "xOffset": {"field": "trt", "type": "nominal", "sort": ["Control","ZCL278","ZCL367","AZA1"], "scale": {"paddingInner": 0.3}}},
    "layer": [
     {"mark": {"type": "bar", "stroke": "#111", "strokeWidth": 1}, "encoding": {"y": {"field": "value", "type": "quantitative", "scale": {"domain": [0, 100], "nice": false}, "axis": {"title": "Cell Count (%)", "labelOverlap": false, "tickCount": 10, "values": [0,20,40,60,80,100], "labelFontSize": 13}}, "fill": {"field": "trt", "type": "nominal", "scale": {"domain": ["Control","ZCL278","ZCL367","AZA1"], "range": ["#ffffff","#b8b8b8","#505050","#1c1c1c"]}, "legend": null}}},
     {"mark": {"type": "rule", "color": "#111"}, "encoding": {"y": {"field": "value", "type": "quantitative"}, "y2": {"field": "hi"}}},
     {"mark": {"type": "tick", "color": "#111", "thickness": 1, "size": 7}, "encoding": {"y": {"field": "hi", "type": "quantitative"}}},
     {"mark": {"type": "text", "dy": -6, "fontSize": 10, "color": "#222"}, "encoding": {"y": {"field": "hi", "type": "quantitative"}, "text": {"field": "sig"}}}
    ]},
   {"width": 155, "height": 156, "title": {"text": "H\u03325\u03322\u03322\u0332", "offset": 20},
    "data": {"name": "cycle"}, "transform": [{"filter": "datum.cell === 'H522'"}],
    "encoding": {"x": {"field": "phase", "type": "nominal", "sort": ["G₀/G₁","S","G₂/M"], "scale": {"paddingInner": 0.22, "paddingOuter": 0.08}, "axis": {"title": null, "labelAngle": 0, "labelFontSize": 14}},
                 "xOffset": {"field": "trt", "type": "nominal", "sort": ["Control","ZCL278","ZCL367","AZA1"], "scale": {"paddingInner": 0.3}}},
    "layer": [
     {"mark": {"type": "bar", "stroke": "#111", "strokeWidth": 1}, "encoding": {"y": {"field": "value", "type": "quantitative", "scale": {"domain": [0, 100], "nice": false}, "axis": {"title": "Cell Count (%)", "labelOverlap": false, "tickCount": 10, "values": [0,20,40,60,80,100], "labelFontSize": 13}}, "fill": {"field": "trt", "type": "nominal", "scale": {"domain": ["Control","ZCL278","ZCL367","AZA1"], "range": ["#ffffff","#b8b8b8","#505050","#1c1c1c"]}, "legend": {"title": null, "orient": "none", "legendX": 183, "legendY": 89}}}},
     {"mark": {"type": "rule", "color": "#111"}, "encoding": {"y": {"field": "value", "type": "quantitative"}, "y2": {"field": "hi"}}},
     {"mark": {"type": "tick", "color": "#111", "thickness": 1, "size": 7}, "encoding": {"y": {"field": "hi", "type": "quantitative"}}},
     {"mark": {"type": "text", "dy": -6, "fontSize": 10, "color": "#222"}, "encoding": {"y": {"field": "hi", "type": "quantitative"}, "text": {"field": "sig"}}}
    ]}
  ],
  "bounds": "flush", "spacing": 45,
  "title": {"text": "B", "anchor": "start", "frame": "bounds", "fontSize": 32, "font": "Liberation Serif", "fontWeight": "bold", "offset": -11},
  "resolve": {"scale": {"fill": "independent", "xOffset": "independent"}, "legend": {"fill": "independent"}}},
 {"hconcat": [
   {"width": 11, "height": 209, "data": {"values": [{"k": 0}]}, "mark": {"type": "point", "opacity": 0}, "encoding": {}},
   {"width": 150, "height": 155, "title": {"text": "P\u0332C\u03323\u0332"},
    "data": {"name": "cycle"}, "transform": [{"filter": "datum.cell === 'PC3'"}],
    "encoding": {"x": {"field": "phase", "type": "nominal", "sort": ["G₀/G₁","S","G₂/M"], "scale": {"paddingInner": 0.22, "paddingOuter": 0.08}, "axis": {"title": null, "labelAngle": 0, "labelFontSize": 14}},
                 "xOffset": {"field": "trt", "type": "nominal", "sort": ["Control","ZCL278","ZCL367","AZA1"], "scale": {"paddingInner": 0.3}}},
    "layer": [
     {"mark": {"type": "bar", "stroke": "#111", "strokeWidth": 1}, "encoding": {"y": {"field": "value", "type": "quantitative", "scale": {"domain": [0, 80], "nice": false}, "axis": {"title": "Cell Count (%)", "labelOverlap": false, "tickCount": 10, "values": [0,20,40,60,80], "labelFontSize": 13}}, "fill": {"field": "trt", "type": "nominal", "scale": {"domain": ["Control","ZCL278","ZCL367","AZA1"], "range": ["#ffffff","#b8b8b8","#505050","#1c1c1c"]}, "legend": null}}},
     {"mark": {"type": "rule", "color": "#111"}, "encoding": {"y": {"field": "value", "type": "quantitative"}, "y2": {"field": "hi"}}},
     {"mark": {"type": "tick", "color": "#111", "thickness": 1, "size": 7}, "encoding": {"y": {"field": "hi", "type": "quantitative"}}},
     {"mark": {"type": "text", "dy": -6, "fontSize": 10, "color": "#222"}, "encoding": {"y": {"field": "hi", "type": "quantitative"}, "text": {"field": "sig"}}}
    ]},
   {"width": 150, "height": 155, "title": {"text": "D\u0332U\u03321\u03324\u03325\u0332"},
    "data": {"name": "cycle"}, "transform": [{"filter": "datum.cell === 'DU145'"}],
    "encoding": {"x": {"field": "phase", "type": "nominal", "sort": ["G₀/G₁","S","G₂/M"], "scale": {"paddingInner": 0.22, "paddingOuter": 0.08}, "axis": {"title": null, "labelAngle": 0, "labelFontSize": 14}},
                 "xOffset": {"field": "trt", "type": "nominal", "sort": ["Control","ZCL278","ZCL367","AZA1"], "scale": {"paddingInner": 0.3}}},
    "layer": [
     {"mark": {"type": "bar", "stroke": "#111", "strokeWidth": 1}, "encoding": {"y": {"field": "value", "type": "quantitative", "scale": {"domain": [0, 100], "nice": false}, "axis": {"title": "Cell Count (%)", "labelOverlap": false, "tickCount": 10, "values": [0,20,40,60,80,100], "labelFontSize": 13}}, "fill": {"field": "trt", "type": "nominal", "scale": {"domain": ["Control","ZCL278","ZCL367","AZA1"], "range": ["#ffffff","#b8b8b8","#505050","#1c1c1c"]}, "legend": null}}},
     {"mark": {"type": "rule", "color": "#111"}, "encoding": {"y": {"field": "value", "type": "quantitative"}, "y2": {"field": "hi"}}},
     {"mark": {"type": "tick", "color": "#111", "thickness": 1, "size": 7}, "encoding": {"y": {"field": "hi", "type": "quantitative"}}},
     {"mark": {"type": "text", "dy": -6, "fontSize": 10, "color": "#222"}, "encoding": {"y": {"field": "hi", "type": "quantitative"}, "text": {"field": "sig"}}}
    ]},
   {"width": 152, "height": 155, "title": {"text": "2\u03322\u0332R\u0332v\u03321\u0332"},
    "data": {"name": "cycle"}, "transform": [{"filter": "datum.cell === '22Rv1'"}],
    "encoding": {"x": {"field": "phase", "type": "nominal", "sort": ["G₀/G₁","S","G₂/M"], "scale": {"paddingInner": 0.22, "paddingOuter": 0.08}, "axis": {"title": null, "labelAngle": 0, "labelFontSize": 14}},
                 "xOffset": {"field": "trt", "type": "nominal", "sort": ["Control","ZCL278","ZCL367","AZA1"], "scale": {"paddingInner": 0.3}}},
    "layer": [
     {"mark": {"type": "bar", "stroke": "#111", "strokeWidth": 1}, "encoding": {"y": {"field": "value", "type": "quantitative", "scale": {"domain": [0, 100], "nice": false}, "axis": {"title": "Cell Count (%)", "labelOverlap": false, "tickCount": 10, "values": [0,20,40,60,80,100], "labelFontSize": 13}}, "fill": {"field": "trt", "type": "nominal", "scale": {"domain": ["Control","ZCL278","ZCL367","AZA1"], "range": ["#ffffff","#b8b8b8","#505050","#1c1c1c"]}, "legend": null}}},
     {"mark": {"type": "rule", "color": "#111"}, "encoding": {"y": {"field": "value", "type": "quantitative"}, "y2": {"field": "hi"}}},
     {"mark": {"type": "tick", "color": "#111", "thickness": 1, "size": 7}, "encoding": {"y": {"field": "hi", "type": "quantitative"}}},
     {"mark": {"type": "text", "dy": -6, "fontSize": 10, "color": "#222"}, "encoding": {"y": {"field": "hi", "type": "quantitative"}, "text": {"field": "sig"}}}
    ]},
   {"width": 148, "height": 155, "title": {"text": "L\u0332N\u0332C\u0332a\u0332P\u0332"},
    "data": {"name": "cycle"}, "transform": [{"filter": "datum.cell === 'LNCaP'"}],
    "encoding": {"x": {"field": "phase", "type": "nominal", "sort": ["G₀/G₁","S","G₂/M"], "scale": {"paddingInner": 0.22, "paddingOuter": 0.08}, "axis": {"title": null, "labelAngle": 0, "labelFontSize": 14}},
                 "xOffset": {"field": "trt", "type": "nominal", "sort": ["Control","ZCL278","ZCL367","AZA1"], "scale": {"paddingInner": 0.3}}},
    "layer": [
     {"mark": {"type": "bar", "stroke": "#111", "strokeWidth": 1}, "encoding": {"y": {"field": "value", "type": "quantitative", "scale": {"domain": [0, 100], "nice": false}, "axis": {"title": "Cell Count (%)", "labelOverlap": false, "tickCount": 10, "values": [0,20,40,60,80,100], "labelFontSize": 13}}, "fill": {"field": "trt", "type": "nominal", "scale": {"domain": ["Control","ZCL278","ZCL367","AZA1"], "range": ["#ffffff","#b8b8b8","#505050","#1c1c1c"]}, "legend": null}}},
     {"mark": {"type": "rule", "color": "#111"}, "encoding": {"y": {"field": "value", "type": "quantitative"}, "y2": {"field": "hi"}}},
     {"mark": {"type": "tick", "color": "#111", "thickness": 1, "size": 7}, "encoding": {"y": {"field": "hi", "type": "quantitative"}}},
     {"mark": {"type": "text", "dy": -6, "fontSize": 10, "color": "#222"}, "encoding": {"y": {"field": "hi", "type": "quantitative"}, "text": {"field": "sig"}}}
    ]}
  ],
  "bounds": "flush", "spacing": 45,
  "resolve": {"scale": {"fill": "independent", "xOffset": "independent"}, "legend": {"fill": "independent"}}},
 {"hconcat": [
   {"width": 1, "height": 185, "data": {"values": [{"k": 0}]}, "mark": {"type": "point", "opacity": 0}, "encoding": {}},
   {"width": 255, "height": 174, "title": {"text": "2\u03324\u0332 \u0332h\u0332 \u0332M\u0332T\u0332T\u0332 \u0332A\u0332s\u0332s\u0332a\u0332y\u0332", "fontSize": 14, "offset": 18},
    "data": {"name": "mtt"}, "transform": [{"filter": "datum.side === 'L'"}],
    "encoding": {"x": {"field": "group", "type": "ordinal", "scale": {"paddingInner": 0.15, "paddingOuter": 0.1}, "axis": {"title": null, "labels": false, "tickSize": 5}},
                 "xOffset": {"field": "series", "type": "nominal", "sort": ["A549","HCC827","H522"], "scale": {"paddingInner": 0.2}}},
    "layer": [
     {"mark": {"type": "bar", "stroke": "#111", "strokeWidth": 1}, "encoding": {"y": {"field": "value", "type": "quantitative", "scale": {"domain": [0, 120], "nice": false}, "axis": {"title": "Cell viability (% Control)", "labelOverlap": false, "tickCount": 10, "values": [0,50,100], "labelFontSize": 13}}, "fill": {"field": "series", "type": "nominal", "scale": {"domain": ["A549","HCC827","H522"], "range": ["#1c1c1c","#505050","#ffffff"]}, "legend": {"title": null, "orient": "top", "direction": "horizontal", "offset": -12, "columnPadding": 14}}}},
     {"mark": {"type": "rule", "color": "#111"}, "encoding": {"y": {"field": "value", "type": "quantitative"}, "y2": {"field": "hi"}}},
     {"mark": {"type": "tick", "color": "#111", "thickness": 1, "size": 7}, "encoding": {"y": {"field": "hi", "type": "quantitative"}}},
     {"mark": {"type": "text", "dy": -7, "fontSize": 11, "color": "#222"}, "encoding": {"y": {"field": "hi", "type": "quantitative"}, "text": {"field": "sig"}}}
    ]},
   {"width": 313, "height": 174, "title": {"text": "2\u03324\u0332 \u0332h\u0332 \u0332M\u0332T\u0332T\u0332 \u0332A\u0332s\u0332s\u0332a\u0332y\u0332", "fontSize": 14, "offset": 18},
    "data": {"name": "mtt"}, "transform": [{"filter": "datum.side === 'R'"}],
    "encoding": {"x": {"field": "group", "type": "ordinal", "scale": {"paddingInner": 0.1, "paddingOuter": 0.09}, "axis": {"title": null, "labels": false, "tickSize": 5}},
                 "xOffset": {"field": "series", "type": "nominal", "sort": ["PC3","DU145","22Rv1","LNCaP"], "scale": {"paddingInner": 0.25}}},
    "resolve": {"scale": {"fill": "independent"}, "legend": {"fill": "independent"}},
    "layer": [
     {"mark": {"type": "bar", "stroke": "#111", "strokeWidth": 1}, "encoding": {"y": {"field": "value", "type": "quantitative", "scale": {"domain": [0, 120], "nice": false}, "axis": {"title": "Cell viability (% Control)", "labelOverlap": false, "tickCount": 10, "values": [0,50,100], "labelFontSize": 13}}, "fill": {"field": "series", "type": "nominal", "scale": {"domain": ["PC3","DU145","22Rv1","LNCaP"], "range": ["#ffffff","#505050","#ffffff","#dcdcdc"]}, "legend": null}}},
     {"mark": {"type": "rule", "color": "#111"}, "encoding": {"y": {"field": "value", "type": "quantitative"}, "y2": {"field": "hi"}}},
     {"mark": {"type": "tick", "color": "#111", "thickness": 1, "size": 7}, "encoding": {"y": {"field": "hi", "type": "quantitative"}}},
     {"mark": {"type": "text", "dy": -7, "fontSize": 11, "color": "#222"}, "encoding": {"y": {"field": "hi", "type": "quantitative"}, "text": {"field": "sig"}}},
     {"transform": [{"filter": "datum.side === 'none'"}],
      "mark": {"type": "square", "filled": true, "opacity": 1, "stroke": "#111", "strokeWidth": 1, "size": 180},
      "encoding": {"y": {"field": "value", "type": "quantitative"}, "fill": {"field": "series", "type": "nominal", "scale": {"domain": ["PC3","DU145","22Rv1","LNCaP"], "range": ["#1c1c1c","#505050","#ffffff","#dcdcdc"]}, "legend": {"title": null, "orient": "top", "direction": "horizontal", "offset": -12, "columnPadding": 14}}}}
    ]}
  ],
  "bounds": "flush", "spacing": 102,
  "title": {"text": "C", "anchor": "start", "frame": "bounds", "fontSize": 32, "font": "Liberation Serif", "fontWeight": "bold", "offset": -52},
  "resolve": {"scale": {"fill": "independent", "xOffset": "independent"}, "legend": {"fill": "independent"}}},
 {"hconcat": [
   {"width": 1, "height": 10, "data": {"values": [{"k": 0}]}, "mark": {"type": "point", "opacity": 0}, "encoding": {}},
   {"width": 255, "height": 62, "data": {"name": "tbl"},
    "mark": {"type": "text", "fontSize": 15, "color": "#222"},
    "encoding": {"x": {"field": "group", "type": "ordinal", "scale": {"paddingInner": 0.15, "paddingOuter": 0.1}, "axis": null},
                 "y": {"field": "trt", "type": "nominal", "sort": ["ZCL278","ZCL367","AZA1","NSC"], "axis": {"title": null, "domain": false, "ticks": false, "tickSize": 0, "labelAlign": "left", "labelPadding": 57, "labelFontWeight": "normal", "labelFontSize": 15, "labelColor": "#222"}},
                 "text": {"field": "s"}}},
   {"width": 313, "height": 62, "data": {"name": "tbl"},
    "mark": {"type": "text", "fontSize": 15, "color": "#222"},
    "encoding": {"x": {"field": "group", "type": "ordinal", "scale": {"paddingInner": 0.1, "paddingOuter": 0.09}, "axis": null},
                 "y": {"field": "trt", "type": "nominal", "sort": ["ZCL278","ZCL367","AZA1","NSC"], "axis": {"title": null, "domain": false, "ticks": false, "tickSize": 0, "labelAlign": "left", "labelPadding": 57, "labelFontWeight": "normal", "labelFontSize": 15, "labelColor": "#222"}},
                 "text": {"field": "s"}}}
  ],
  "bounds": "flush", "spacing": 102}
]
}
